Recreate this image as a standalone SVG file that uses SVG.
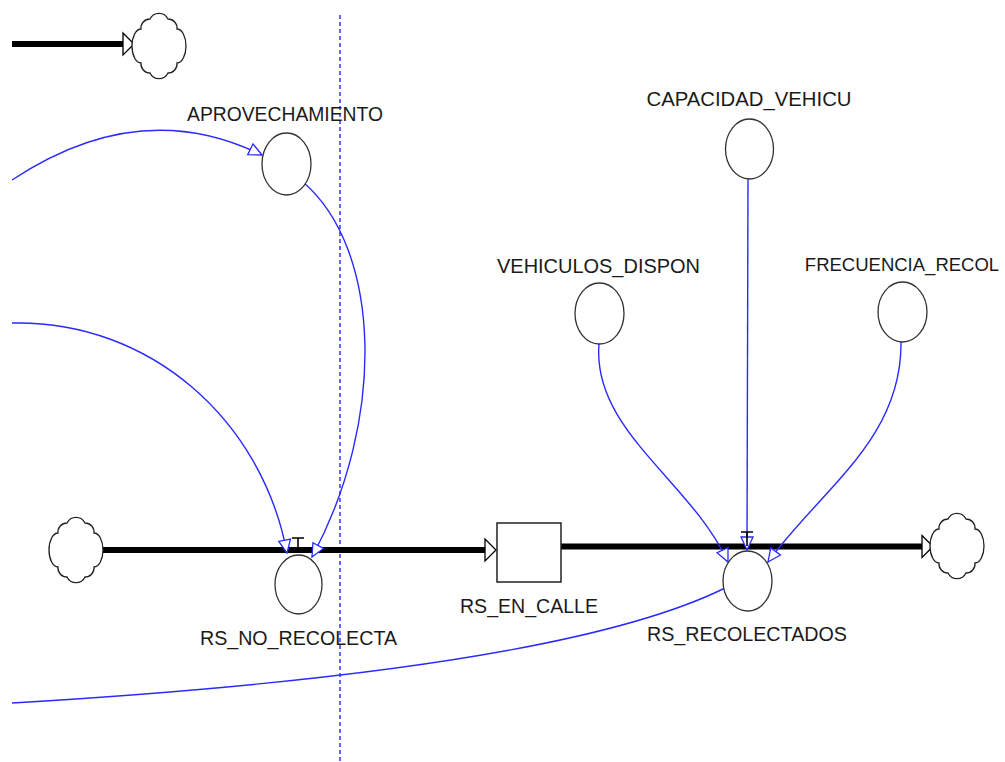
<svg xmlns="http://www.w3.org/2000/svg" width="1005" height="762" viewBox="0 0 1005 762">
<style>
.lbl{font-family:"Liberation Sans",Arial,sans-serif;font-size:20px;fill:#1a1a1a;text-anchor:middle}
.aux{fill:#fff;stroke:#333;stroke-width:1.3}
.cloud{fill:#fff;stroke:#222;stroke-width:1.3}
.flow{stroke:#000;stroke-width:6;fill:none}
.conn{stroke:#2a2aff;stroke-width:1.4;fill:none;marker-end:url(#ah)}
.valve{stroke:#000;stroke-width:1.6;fill:none}
</style>
<defs>
<marker id="ah" markerUnits="userSpaceOnUse" viewBox="-14 -8 16 16" refX="0" refY="0" markerWidth="16" markerHeight="16" orient="auto">
<path d="M0,0 L-13,-6 L-13,6 Z" fill="#fff" stroke="#2a2aff" stroke-width="1.3"/>
</marker>
<path id="cl" class="cloud" d="M-9,-27 A10 10 0 0 1 9,-27 A9 9 0 0 1 18,-17 A9 17 0 0 1 18,17 A9 9 0 0 1 9,27 A10 10 0 0 1 -9,27 A9 9 0 0 1 -18,17 A9 17 0 0 1 -18,-17 A9 9 0 0 1 -9,-27 Z"/>
<path id="fa" d="M0,-11 L11,0 L0,11 Z" fill="#fff" stroke="#000" stroke-width="1.3"/>
</defs>
<rect width="1005" height="762" fill="#fff"/>

<line x1="340" y1="15" x2="340" y2="762" stroke="#0000ff" stroke-width="1.2" stroke-dasharray="4,3"/>

<g id="flows">
<line class="flow" x1="12" y1="44" x2="123" y2="44"/>
<use href="#fa" x="123" y="44"/>
<line class="flow" x1="102" y1="550" x2="485" y2="550"/>
<use href="#fa" x="485" y="550"/>
<line class="flow" x1="561" y1="546.5" x2="922" y2="546.5"/>
<use href="#fa" x="922" y="546.5"/>
</g>

<g id="cloud-top"><use href="#cl" x="159" y="46"/></g>
<g id="cloud-left"><use href="#cl" x="76" y="550"/></g>
<g id="cloud-right"><use href="#cl" x="957" y="546"/></g>

<g id="connectors">
<path class="conn" d="M12,180 Q140,95 262,155"/>
<path class="conn" d="M303,182 C382,250 386,420 312,557"/>
<path class="conn" d="M12,323 C150,320 262,420 287,553"/>
<path class="conn" d="M599,344 C592,430 690,480 728,562"/>
<path class="conn" d="M748,179 L747,550"/>
<path class="conn" d="M901,342 C902,440 820,490 768,562"/>
<path d="M725,588 C620,640 400,680 12,703" stroke="#2a2aff" stroke-width="1.4" fill="none"/>
</g>

<g id="APROVECHAMIENTO">
<ellipse class="aux" cx="286.5" cy="164" rx="24.5" ry="31"/>
<text class="lbl" x="285" y="121" textLength="196" lengthAdjust="spacingAndGlyphs">APROVECHAMIENTO</text>
</g>
<g id="CAPACIDAD_VEHICU">
<ellipse class="aux" cx="749.5" cy="149" rx="24" ry="30"/>
<text class="lbl" x="749" y="106" textLength="205" lengthAdjust="spacingAndGlyphs">CAPACIDAD_VEHICU</text>
</g>
<g id="VEHICULOS_DISPON">
<ellipse class="aux" cx="599.5" cy="313.5" rx="24.5" ry="30.5"/>
<text class="lbl" x="598.5" y="273" textLength="203" lengthAdjust="spacingAndGlyphs">VEHICULOS_DISPON</text>
</g>
<g id="FRECUENCIA_RECOL">
<ellipse class="aux" cx="902.5" cy="312" rx="24.5" ry="30"/>
<text class="lbl" x="902" y="271" style="font-size:18.5px">FRECUENCIA_RECOL</text>
</g>
<g id="RS_NO_RECOLECTA">
<ellipse class="aux" cx="298.5" cy="584.5" rx="23.5" ry="29.5"/>
<path class="valve" d="M292,538 L304,538 M298,538 L298,548"/>
<text class="lbl" x="298.5" y="645" textLength="197" lengthAdjust="spacingAndGlyphs">RS_NO_RECOLECTA</text>
</g>
<g id="RS_EN_CALLE">
<rect x="497" y="523" width="64" height="59" fill="#fff" stroke="#222" stroke-width="1.5"/>
<text class="lbl" x="529" y="613" textLength="138" lengthAdjust="spacingAndGlyphs">RS_EN_CALLE</text>
</g>
<g id="RS_RECOLECTADOS">
<ellipse class="aux" cx="747.5" cy="581" rx="24.5" ry="30"/>
<path class="valve" d="M741,532 L753,532 M747,532 L747,546"/>
<text class="lbl" x="747" y="641" textLength="200" lengthAdjust="spacingAndGlyphs">RS_RECOLECTADOS</text>
</g>
</svg>
